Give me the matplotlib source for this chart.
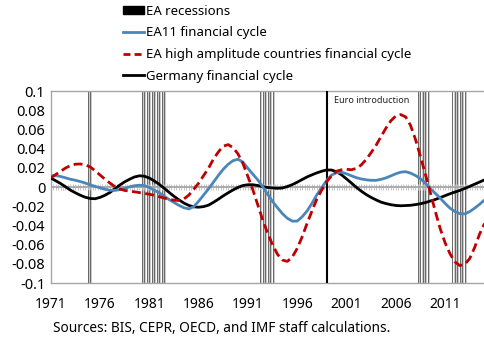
import numpy as np
import matplotlib
matplotlib.use("Agg")
import matplotlib.pyplot as plt
from matplotlib.patches import Patch
from matplotlib.lines import Line2D

plt.rcParams['font.family'] = ['Noto Sans', 'DejaVu Sans']

# half-yearly observations, 1971H1 .. 2015H1
years = np.arange(1971, 2015.01, 0.5)

ea11 = [
    0.0115, 0.012, 0.011, 0.0096, 0.0081, 0.0071, 0.0057, 0.0042, 0.0022, 0.0007,
    -0.0008, -0.0023, -0.0034, -0.0035, -0.0027, -0.0013, 0.0002, 0.0013, 0.0019, 0.0015,
    -0.0004, -0.0033, -0.006, -0.0094, -0.013, -0.016, -0.019, -0.0215, -0.0228, -0.0205,
    -0.0148, -0.0085, -0.002, 0.005, 0.012, 0.0185, 0.0237, 0.0275, 0.029, 0.026,
    0.0195, 0.0135, 0.0075, 0.0005, -0.0075, -0.015, -0.0215, -0.0277, -0.0325, -0.0355,
    -0.0355, -0.031, -0.025, -0.017, -0.008, -0.0005, 0.007, 0.0125, 0.015, 0.0155,
    0.0138, 0.0117, 0.0098, 0.0084, 0.0075, 0.007, 0.007, 0.008, 0.0095, 0.0116,
    0.0138, 0.0155, 0.016, 0.0145, 0.012, 0.0087, 0.004, -0.0015, -0.0065, -0.0115,
    -0.017, -0.022, -0.0255, -0.0277, -0.028, -0.0256, -0.022, -0.018, -0.0135,
]

high_amp = [
    0.0095, 0.013, 0.0163, 0.0198, 0.0223, 0.0238, 0.024, 0.0232, 0.021, 0.017,
    0.0126, 0.0082, 0.0042, 0.0006, -0.002, -0.0035, -0.0043, -0.005, -0.0058, -0.0066,
    -0.0075, -0.0086, -0.01, -0.0115, -0.0127, -0.0137, -0.014, -0.0125, -0.0085, -0.0025,
    0.004, 0.0118, 0.0195, 0.029, 0.0365, 0.0425, 0.0442, 0.041, 0.0345, 0.0245,
    0.011, -0.0027, -0.0185, -0.034, -0.048, -0.06, -0.07, -0.076, -0.0775, -0.073,
    -0.064, -0.052, -0.038, -0.025, -0.0125, -0.003, 0.0055, 0.012, 0.0165, 0.018,
    0.0185, 0.018, 0.0194, 0.023, 0.0287, 0.0358, 0.0435, 0.0525, 0.0613, 0.069,
    0.074, 0.0755, 0.0731, 0.0642, 0.0496, 0.032, 0.0135, -0.0055, -0.025, -0.0432,
    -0.058, -0.0695, -0.078, -0.0818, -0.0805, -0.0745, -0.063, -0.049, -0.038,
]

germany = [
    0.0095, 0.0066, 0.0037, 0.0003, -0.0032, -0.006, -0.0085, -0.0106, -0.0119, -0.0122,
    -0.0108, -0.0086, -0.0057, -0.0019, 0.002, 0.0054, 0.0081, 0.0105, 0.0117, 0.0113,
    0.0094, 0.0064, 0.0029, -0.0011, -0.0055, -0.0096, -0.0133, -0.0166, -0.0191, -0.0206,
    -0.021, -0.0204, -0.0189, -0.016, -0.0127, -0.0092, -0.006, -0.003, -0.0004, 0.0016,
    0.0024, 0.0024, 0.0016, 0.0004, -0.0004, -0.001, -0.0013, -0.001, 0.0005, 0.0025,
    0.005, 0.0078, 0.0105, 0.0127, 0.0148, 0.0165, 0.0178, 0.0177, 0.0159, 0.0127,
    0.0085, 0.0042, -0.0003, -0.0043, -0.0078, -0.0108, -0.0134, -0.0157, -0.0172, -0.0184,
    -0.0192, -0.0195, -0.0193, -0.019, -0.0183, -0.0174, -0.0162, -0.0146, -0.013, -0.011,
    -0.009, -0.007, -0.0052, -0.0035, -0.0015, 0.0007, 0.003, 0.0052, 0.0075,
]

# CEPR euro area recession spells (first and last quarter, as fractional years)
recessions = [(1974.75, 1975.0), (1980.25, 1982.5), (1992.25, 1993.5),
              (2008.25, 2009.25), (2011.75, 2013.0)]
euro_year = 1999.0

xticks = [1971, 1976, 1981, 1986, 1991, 1996, 2001, 2006, 2011]
yticks = [0.1, 0.08, 0.06, 0.04, 0.02, 0, -0.02, -0.04, -0.06, -0.08, -0.1]
ytick_labels = ['0.1', '0.08', '0.06', '0.04', '0.02', '0',
                '-0.02', '-0.04', '-0.06', '-0.08', '-0.1']

BLUE = '#4a86b8'
RED = '#c00000'
GRID = '#a6a6a6'

fig = plt.figure(figsize=(4.85, 3.41), dpi=100)
ax = fig.add_axes([0.1045, 0.170, 0.8955, 0.563])

# recession quarters as thin vertical strokes spanning the whole axis
for start, end in recessions:
    q = np.arange(start, end + 0.01, 0.25)
    ax.vlines(q, -0.1, 0.1, color='#666666', linewidth=0.7, zorder=1)
    ax.vlines(q + 0.11, -0.1, 0.1, color='#b5b5b5', linewidth=0.5, zorder=1)

# zero line with quarterly tick marks
quarters = np.arange(1971, 2015.01, 0.25)
ax.vlines(quarters, -0.0036, 0.0036, color='#bdbdbd', linewidth=0.6, zorder=2)
ax.axhline(0, color=GRID, linewidth=1.3, zorder=2)

ax.axvline(euro_year, color='black', linewidth=1.5, zorder=3)
ax.text(euro_year + 0.7, 0.0905, 'Euro introduction', fontsize=6.5,
        va='center', ha='left', color='#222222', zorder=5)

ax.plot(years, germany, color='black', linewidth=2.0, zorder=4)
ax.plot(years, ea11, color=BLUE, linewidth=2.0, zorder=4)
ax.plot(years, high_amp, color=RED, linewidth=2.0, linestyle=(0, (3.2, 1.6)), zorder=4)

ax.set_xlim(1971, 2015.05)
ax.set_ylim(-0.1, 0.1)
ax.set_xticks(xticks)
ax.set_xticklabels([str(y) for y in xticks], fontsize=10)
ax.set_yticks(yticks)
ax.set_yticklabels(ytick_labels, fontsize=10.5)
ax.tick_params(axis='x', length=0, pad=10)
ax.tick_params(axis='y', length=0, pad=4)
for side in ['left', 'top', 'bottom']:
    ax.spines[side].set_color(GRID)
    ax.spines[side].set_linewidth(1.0)
ax.spines['right'].set_visible(False)

handles = [
    Patch(facecolor='black', edgecolor='black'),
    Line2D([], [], color=BLUE, linewidth=2.0),
    Line2D([], [], color=RED, linewidth=2.0, linestyle=(0, (2.5, 1.5))),
    Line2D([], [], color='black', linewidth=2.0),
]
labels = ['EA recessions', 'EA11 financial cycle',
          'EA high amplitude countries financial cycle', 'Germany financial cycle']
fig.legend(handles, labels, loc='upper left', bbox_to_anchor=(0.235, 1.013),
           frameon=False, fontsize=9.5, handlelength=1.6, handleheight=0.6,
           handletextpad=0.1, labelspacing=0.65, borderpad=0.2)

fig.text(53 / 485, 1 - 328 / 341, 'Sources: BIS, CEPR, OECD, and IMF staff calculations.',
         fontsize=9.8, va='center', ha='left')

fig.savefig('out.png', dpi=100)
